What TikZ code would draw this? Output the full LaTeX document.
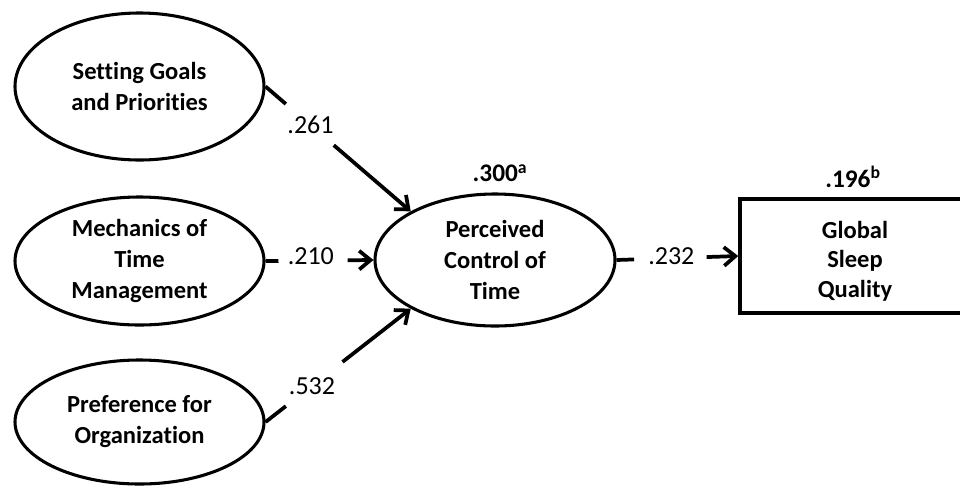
\documentclass[tikz,border=0pt]{standalone}
\usepackage{fontspec}
\setmainfont{Carlito}[Ligatures={NoCommon}]
\usetikzlibrary{shapes.geometric,arrows.meta,calc}
\begin{document}
\begin{tikzpicture}[x=0.75pt,y=-0.75pt,
  construct/.style={ellipse,draw,line width=2.3pt,inner sep=0pt,align=center,
    font=\bfseries\fontsize{18.4}{23.25}\selectfont},
  observed/.style={rectangle,draw,line width=2.6pt,inner sep=0pt},
  obslabel/.style={align=center,inner sep=0pt,
    font=\bfseries\fontsize{18.4}{22}\selectfont},
  stub/.style={line width=2.8pt},
  effect/.style={line width=2.8pt,-{Straight Barb[length=8.5pt,width=14pt]}},
  coef/.style={font=\fontsize{19.5}{22}\selectfont,inner sep=0pt},
  rsq/.style={font=\bfseries\fontsize{19}{22}\selectfont,inner sep=0pt}]
\clip (0,0) rectangle (960,487);

% latent constructs
\node[construct,minimum width=186.75pt,minimum height=110.25pt] (sgp) at (139.5,86.5) {Setting Goals\\and Priorities};
\node[construct,minimum width=186.75pt,minimum height=96pt] (mtm) at (139.5,261) {Mechanics of\\Time\\Management};
\node[construct,minimum width=186.75pt,minimum height=93pt] (pfo) at (139.5,422) {Preference for\\Organization};
\node[construct,minimum width=180pt,minimum height=99pt] (pct) at (495,260) {Perceived\\Control of\\Time};

% observed outcome
\node[observed,minimum width=169.5pt,minimum height=85.5pt] (gsq) at (853,256) {};
\node[obslabel] (gsqtext) at (855,261) {Global\\Sleep\\Quality};

% explained variance
\node[rsq] (r2a) at (500,173) {.300\textsuperscript{a}};
\node[rsq] (r2b) at (853,177) {.196\textsuperscript{b}};

% path from Setting Goals and Priorities
\coordinate (a1) at ($(sgp.east)!0.14!(pct.150)$);
\coordinate (a2) at ($(sgp.east)!0.47!(pct.150)$);
\node[coef] (c1) at ($(sgp.east)!0.31!(pct.150)$) {.261};
\draw[stub] (sgp.east) -- (a1);
\draw[effect] (a2) -- (pct.150);

% path from Mechanics of Time Management
\coordinate (b1) at ($(mtm.east)!0.12!(pct.west)$);
\coordinate (b2) at ($(mtm.east)!0.76!(pct.west)$);
\node[coef] (c2) at ($(mtm.east)!0.42!(pct.west)+(0,-4)$) {.210};
\draw[stub] (mtm.east) -- (b1);
\draw[effect] (b2) -- (pct.west);

% path from Preference for Organization
\coordinate (d1) at ($(pfo.east)!0.14!(pct.210)$);
\coordinate (d2) at ($(pfo.east)!0.53!(pct.210)$);
\node[coef] (c3) at ($(pfo.east)!0.32!(pct.210)$) {.532};
\draw[stub] (pfo.east) -- (d1);
\draw[effect] (d2) -- (pct.210);

% path to Global Sleep Quality
\coordinate (e1) at ($(pct.east)!0.144!(gsq.west)$);
\coordinate (e2) at ($(pct.east)!0.74!(gsq.west)$);
\node[coef] (c4) at ($(pct.east)!0.45!(gsq.west)+(0,-2)$) {.232};
\draw[stub] (pct.east) -- (e1);
\draw[effect] (e2) -- (gsq.west);
\end{tikzpicture}
\end{document}
